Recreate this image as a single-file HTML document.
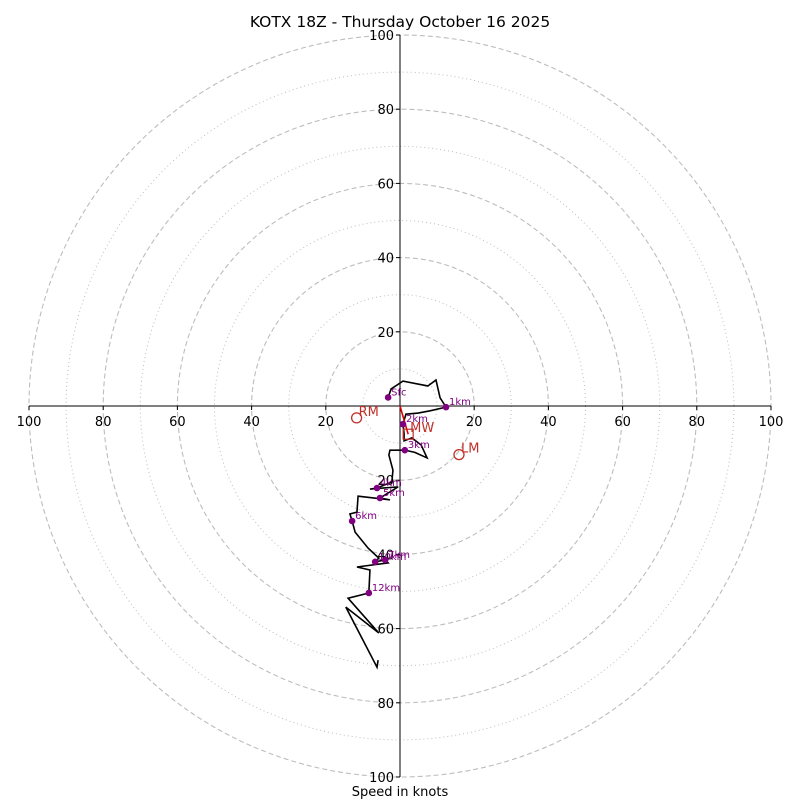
<!DOCTYPE html>
<html><head><meta charset="utf-8"><style>
body{margin:0;background:#fff;font-family:"Liberation Sans","DejaVu Sans",sans-serif;}
svg text{font-family:"DejaVu Sans","Liberation Sans",sans-serif;}
</style></head><body>
<svg id="chart" width="800" height="800" viewBox="0 0 800 800">
<text x="400" y="27" text-anchor="middle" font-size="15.5">KOTX 18Z - Thursday October 16 2025</text>
<text x="400" y="796" text-anchor="middle" font-size="13">Speed in knots</text>
<g id="rings"></g><g id="axes"></g><g id="plot"></g>
</svg>
<script>
const ringSpeeds=[10,20,30,40,50,60,70,80,90,100];
const tickLabels=[20,40,60,80,100];
const windU=[-3.2,-2.4,0.8,7.5,9.7,10.8,12.4,8.1,4.9,1.6,0.8,1.1,1.1,3.2,5.7,7.3,4.0,1.3,-2.7,-3.0,-1.9,-2.2,-6.2,-8.1,-0.5,-5.4,-2.7,-11.3,-11.6,-13.5,-12.9,-12.1,-8.6,-5.7,-6.7,-4.0,-3.2,-11.6,-8.1,-8.4,-14.0,-5.7,-14.6,-6.2,-5.9];
const windV=[2.3,4.6,6.7,5.4,7.0,2.2,-0.3,-1.3,-1.9,-2.2,-4.9,-7.5,-9.4,-8.6,-10.5,-14.0,-12.5,-11.9,-11.9,-13.2,-17.3,-20.5,-22.1,-22.4,-21.8,-24.8,-25.3,-24.3,-28.6,-29.1,-31.0,-34.0,-38.3,-41.0,-42.0,-41.5,-42.3,-43.4,-44.2,-50.4,-51.8,-61.2,-54.2,-70.4,-68.5];
const kmLabels=["Sfc","1km","2km","3km","4km","5km","6km","10km","7km","12km"];
const kmU=[-3.2,12.4,0.8,1.3,-6.2,-5.4,-12.9,-6.7,-4.0,-8.4];
const kmV=[2.3,-0.3,-4.9,-11.9,-22.1,-24.8,-31.0,-42.0,-41.5,-50.4];
const motionLabels=["RM","LM","MW"];
const motionU=[-11.7,15.9,2.2];
const motionV=[-3.2,-13.1,-7.6];
const CX=400,CY=406,S=3.71;
const X=u=>CX+u*S, Y=v=>CY-v*S;
const NS="http://www.w3.org/2000/svg";
function mk(t,a,p){const e=document.createElementNS(NS,t);for(const k in a)e.setAttribute(k,a[k]);p.appendChild(e);return e;}
const rings=document.getElementById('rings'),axes=document.getElementById('axes'),plot=document.getElementById('plot');
ringSpeeds.forEach(s=>{const c=mk('circle',{cx:CX,cy:CY,r:s*S,fill:'none',stroke:'#bdbdbd','stroke-width':s%20===0?1.1:1,'stroke-dasharray':s%20===0?'5,3':'1,3'},rings);

});
let l=mk('line',{x1:X(-100),y1:CY,x2:X(100),y2:CY,stroke:'#000','stroke-width':1},axes);


l=mk('line',{x1:CX,y1:Y(100),x2:CX,y2:Y(-100),stroke:'#000','stroke-width':1},axes);


tickLabels.forEach(t=>{[t,-t].forEach(v=>{
 mk('line',{x1:X(v),y1:CY,x2:X(v),y2:CY+4,stroke:'#000'},axes);
 let tx=mk('text',{x:X(v),y:CY+20,'text-anchor':'middle','font-size':13},axes);tx.textContent=t;
 
 
 mk('line',{x1:CX-4,y1:Y(v),x2:CX,y2:Y(v),stroke:'#000'},axes);
 let ty=mk('text',{x:CX-6,y:Y(v)+5,'text-anchor':'end','font-size':13},axes);ty.textContent=t;
 
 
});});
const pts=windU.map((u,i)=>X(u)+','+Y(windV[i])).join(' ');
const pl=mk('polyline',{points:pts,fill:'none',stroke:'#000','stroke-width':1.6},plot);


const mw=mk('line',{x1:X(0),y1:Y(0),x2:X(motionU[2]),y2:Y(motionV[2]),stroke:'#e00000','stroke-width':1.6},plot);


kmLabels.forEach((k,i)=>{const c=mk('circle',{cx:X(kmU[i]),cy:Y(kmV[i]),r:3.3,fill:'#800080'},plot);


const t=mk('text',{x:X(kmU[i])+3,y:Y(kmV[i])-2,'font-size':10,fill:'#800080'},plot);t.textContent=k;

});
motionLabels.forEach((m,i)=>{let e;
if(m==='MW'){e=mk('rect',{x:X(motionU[i])-5,y:Y(motionV[i])-5,width:10,height:10,fill:'none',stroke:'#c0302a','stroke-width':1.2},plot);}
else{e=mk('circle',{cx:X(motionU[i]),cy:Y(motionV[i]),r:5,fill:'none',stroke:'#c0302a','stroke-width':1.3},plot);}


const t=mk('text',{x:X(motionU[i])+2,y:Y(motionV[i])-2,'font-size':13,fill:'#c0302a'},plot);t.textContent=m;

});
</script>
</body></html>
